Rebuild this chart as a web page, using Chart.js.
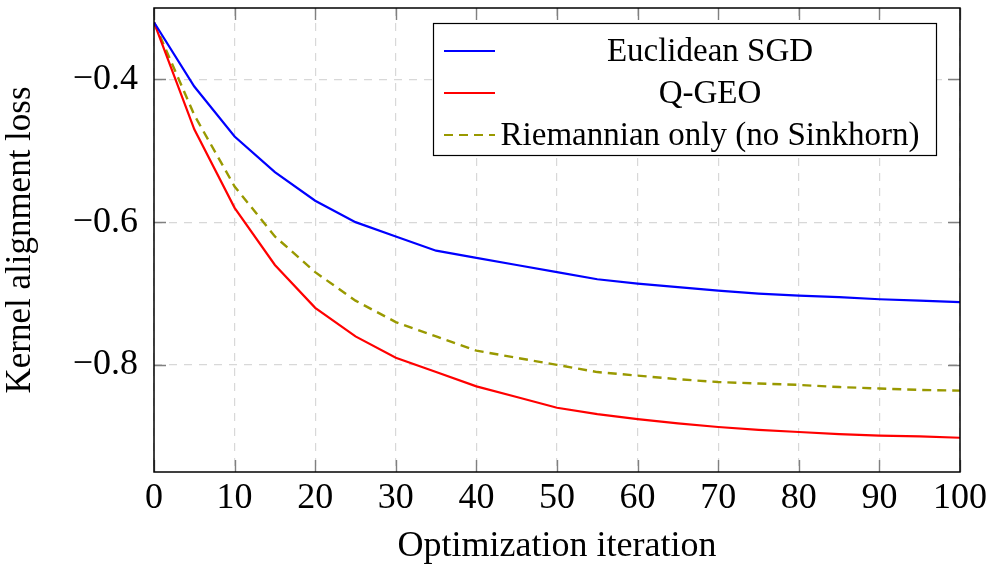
<!DOCTYPE html>
<html>
<head>
<meta charset="utf-8">
<script src="https://cdn.jsdelivr.net/npm/chart.js@4.4.1/dist/chart.umd.min.js"></script>
<style>
  html, body { margin: 0; padding: 0; background: #fff; }
  #wrap { width: 998px; height: 570px; }
</style>
</head>
<body>
<div id="wrap"><canvas id="lossChart"></canvas></div>
<script>
// iterations shared by all three runs
const iterations = [0, 5, 10, 15, 20, 25, 30, 35, 40, 45, 50, 55, 60, 65, 70, 75, 80, 85, 90, 95, 100];

const euclideanSGD = [-0.32, -0.41, -0.48, -0.53, -0.57, -0.60, -0.62, -0.64, -0.65, -0.66, -0.67,
    -0.68, -0.686, -0.691, -0.696, -0.70, -0.703, -0.705, -0.708, -0.71, -0.712];
const qGeo = [-0.32, -0.47, -0.58, -0.66, -0.72, -0.76, -0.79, -0.81, -0.83, -0.845, -0.86,
    -0.869, -0.876, -0.882, -0.887, -0.891, -0.894, -0.897, -0.899, -0.90, -0.902];
const riemannianOnly = [-0.32, -0.45, -0.55, -0.62, -0.67, -0.71, -0.74, -0.76, -0.78, -0.79, -0.80,
    -0.81, -0.815, -0.82, -0.824, -0.826, -0.828, -0.831, -0.833, -0.835, -0.836];

const xTicks = [0, 10, 20, 30, 40, 50, 60, 70, 80, 90, 100];
const yTicks = [-0.8, -0.6, -0.4];

const FONT = "'Liberation Serif', 'Times New Roman', serif";

const toPoints = (ys) => ys.map((y, i) => ({ x: iterations[i], y: y }));

// pgfplots style: box frame, inward ticks, legend box in the top right
const framePlugin = {
    id: 'frame',
    afterDraw(chart) {
        const { ctx, chartArea: a, scales } = chart;
        ctx.save();
        ctx.strokeStyle = '#808080';
        ctx.lineWidth = 1.4;
        const t = 12;
        xTicks.forEach(v => {
            const px = Math.round(scales.x.getPixelForValue(v)) + 0.5;
            ctx.beginPath();
            ctx.moveTo(px, a.bottom); ctx.lineTo(px, a.bottom - t);
            ctx.moveTo(px, a.top); ctx.lineTo(px, a.top + t);
            ctx.stroke();
        });
        yTicks.forEach(v => {
            const py = Math.round(scales.y.getPixelForValue(v)) + 0.5;
            ctx.beginPath();
            ctx.moveTo(a.left, py); ctx.lineTo(a.left + t, py);
            ctx.moveTo(a.right, py); ctx.lineTo(a.right - t, py);
            ctx.stroke();
        });
        ctx.strokeStyle = '#000';
        ctx.lineWidth = 1.5;
        ctx.strokeRect(a.left, a.top, a.right - a.left, a.bottom - a.top);

        // legend
        const bx = a.left + 279, by = a.top + 15, bw = 503, bh = 132;
        ctx.fillStyle = '#fff';
        ctx.fillRect(bx, by, bw, bh);
        ctx.strokeStyle = '#000';
        ctx.lineWidth = 1.2;
        ctx.strokeRect(bx + 0.5, by + 0.5, bw, bh);
        ctx.font = '33px ' + FONT;
        ctx.textAlign = 'center';
        ctx.textBaseline = 'middle';
        chart.data.datasets.forEach((ds, i) => {
            const cy = by + 28 + i * 42;
            ctx.strokeStyle = ds.borderColor;
            ctx.lineWidth = 2;
            ctx.setLineDash(ds.borderDash || []);
            ctx.beginPath();
            ctx.moveTo(bx + 11, cy); ctx.lineTo(bx + 62, cy);
            ctx.stroke();
            ctx.setLineDash([]);
            ctx.fillStyle = '#000';
            ctx.fillText(ds.label, bx + 277, cy + 1);
        });
        ctx.restore();
    }
};

new Chart(document.getElementById('lossChart').getContext('2d'), {
    type: 'line',
    data: {
        datasets: [
            {
                label: 'Euclidean SGD',
                data: toPoints(euclideanSGD),
                borderColor: '#0000ff',
                borderWidth: 2.2,
                pointRadius: 0,
                tension: 0,
            },
            {
                label: 'Q-GEO',
                data: toPoints(qGeo),
                borderColor: '#ff0000',
                borderWidth: 2.2,
                pointRadius: 0,
                tension: 0,
            },
            {
                label: 'Riemannian only (no Sinkhorn)',
                data: toPoints(riemannianOnly),
                borderColor: '#999900',
                borderDash: [9, 6],
                borderWidth: 2.4,
                pointRadius: 0,
                tension: 0,
            },
        ],
    },
    options: {
        responsive: true,
        maintainAspectRatio: false,
        animation: false,
        layout: { padding: { top: 8, right: 38, left: 0, bottom: 0 } },
        plugins: {
            legend: { display: false },
            tooltip: { enabled: false },
        },
        scales: {
            x: {
                type: 'linear',
                min: 0,
                max: 100,
                afterFit: (s) => { s.height = 98; s.paddingLeft = 0; s.paddingRight = 0; },
                afterBuildTicks: (s) => { s.ticks = xTicks.map(v => ({ value: v })); },
                grid: { color: '#d8d8d8', lineWidth: 1.2, drawTicks: false },
                border: { display: false, dash: [8, 7] },
                ticks: {
                    color: '#000',
                    padding: 5,
                    maxRotation: 0,
                    font: { family: FONT, size: 36 },
                },
                title: {
                    display: true,
                    text: 'Optimization iteration',
                    color: '#000',
                    font: { family: FONT, size: 36 },
                    padding: { top: 0, bottom: 2 },
                },
            },
            y: {
                type: 'linear',
                min: -0.95,
                max: -0.3,
                afterFit: (s) => { s.width = 154; s.paddingTop = 0; s.paddingBottom = 0; },
                afterBuildTicks: (s) => { s.ticks = yTicks.map(v => ({ value: v })); },
                grid: { color: '#d8d8d8', lineWidth: 1.2, drawTicks: false },
                border: { display: false, dash: [8, 7] },
                ticks: {
                    color: '#000',
                    padding: 16,
                    font: { family: FONT, size: 36 },
                    callback: (v) => (v < 0 ? '\u2212' : '') + Math.abs(v).toFixed(1),
                },
                title: {
                    display: true,
                    text: 'Kernel alignment loss',
                    color: '#000',
                    font: { family: FONT, size: 35 },
                    padding: { top: 0, bottom: 6 },
                },
            },
        },
    },
    plugins: [framePlugin],
});
</script>
</body>
</html>
